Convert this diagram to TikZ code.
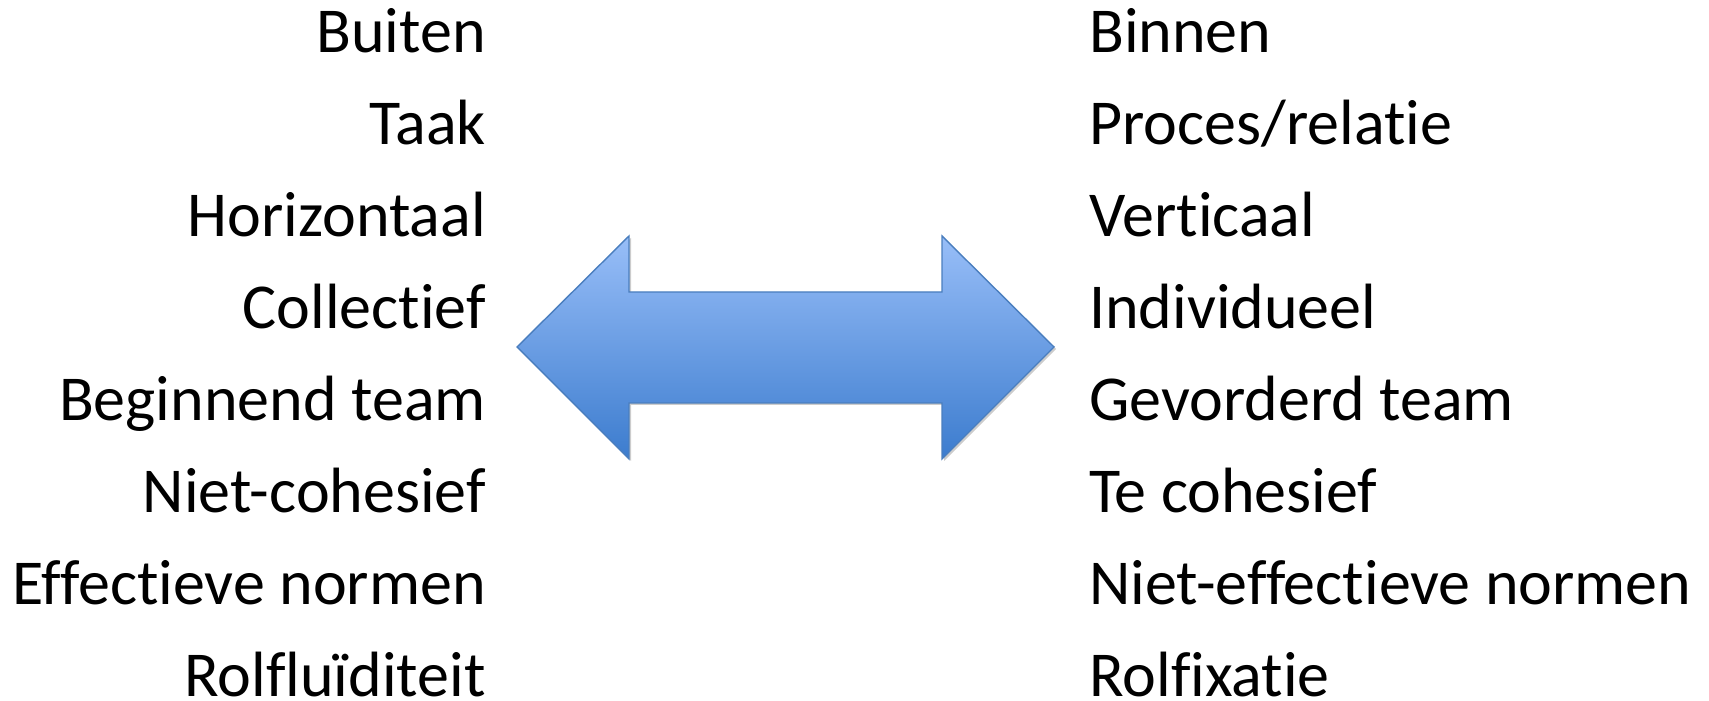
\documentclass[tikz,border=0pt]{standalone}
\usepackage{fontspec}
\setmainfont{Carlito}[Ligatures={NoCommon}]
\usepackage{tikz}
\usetikzlibrary{shadows}
\definecolor{arrowtop}{RGB}{152,190,248}
\definecolor{arrowbottom}{RGB}{60,124,206}
\definecolor{arrowline}{RGB}{74,126,190}
\tikzstyle{left_item} = [anchor=base east, inner sep=0pt, font=\fontsize{64}{76}\selectfont]
\tikzstyle{right_item} = [anchor=base west, inner sep=0pt, font=\fontsize{64}{76}\selectfont]
\tikzstyle{double_arrow} = [draw=arrowline, line width=1.4pt, line join=miter, top color=arrowtop, bottom color=arrowbottom, drop shadow={shadow xshift=2pt, shadow yshift=-2pt, opacity=0.2, fill=black}]

\begin{document}
\begin{tikzpicture}[x=1pt, y=1pt]
            \useasboundingbox (0,0) rectangle (1709,701);

            \node (buiten) [left_item] at (486,648) {Buiten};
            \node (taak) [left_item] at (486,556) {Taak};
            \node (horizontaal) [left_item] at (486,464) {Horizontaal};
            \node (collectief) [left_item] at (486,372) {Collectief};
            \node (beginnend) [left_item] at (486,280) {Beginnend team};
            \node (niet_cohesief) [left_item] at (486,188) {Niet-cohesief};
            \node (effectief) [left_item] at (486,96) {Effectieve normen};
            \node (rolfluiditeit) [left_item] at (486,4) {Rolfluïditeit};

            \node (binnen) [right_item] at (1089,648) {Binnen};
            \node (proces) [right_item] at (1089,556) {Proces/relatie};
            \node (verticaal) [right_item] at (1089,464) {Verticaal};
            \node (individueel) [right_item] at (1089,372) {Individueel};
            \node (gevorderd) [right_item] at (1089,280) {Gevorderd team};
            \node (te_cohesief) [right_item] at (1089,188) {Te cohesief};
            \node (niet_effectief) [right_item] at (1089,96) {Niet-effectieve normen};
            \node (rolfixatie) [right_item] at (1089,4) {Rolfixatie};

            \draw [double_arrow] (517,354) -- (629,465) -- (629,409) -- (942,409) -- (942,465) -- (1054,354) -- (942,242) -- (942,298) -- (629,298) -- (629,242) -- cycle;

        \end{tikzpicture}
\end{document}
